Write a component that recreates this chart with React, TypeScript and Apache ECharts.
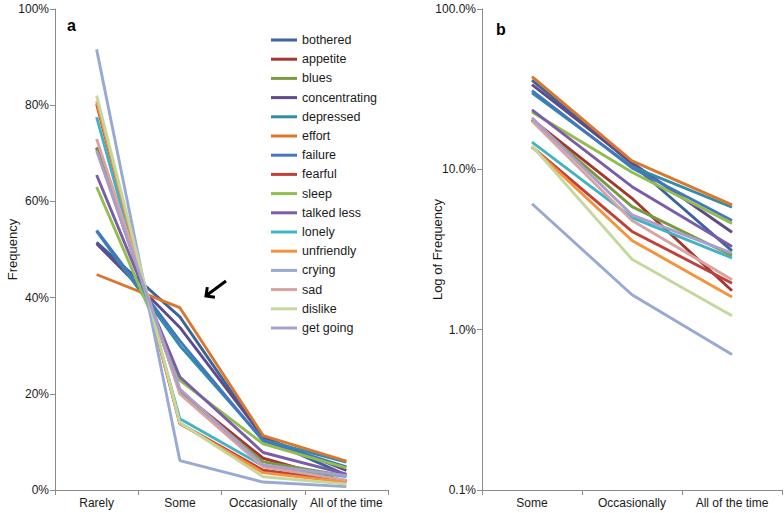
import React, { useEffect, useRef } from "react";
import * as echarts from "echarts";

const categoriesA = ["Rarely", "Some", "Occasionally", "All of the time"];
const categoriesB = ["Some", "Occasionally", "All of the time"];

const symptoms = [
  "bothered", "appetite", "blues", "concentrating", "depressed", "effort",
  "failure", "fearful", "sleep", "talked less", "lonely", "unfriendly",
  "crying", "sad", "dislike", "get going",
];

const colors = [
  "#3B649B", "#A5362F", "#7B9A3E", "#5F4A8B", "#2F8DA8", "#D9782D",
  "#4478BE", "#C0403A", "#93BE4D", "#7A5CA8", "#41B3C7", "#F5923A",
  "#97AAD4", "#D8A3A3", "#C4D89E", "#AA9FCB",
];

// values in percent, in symptom order
const rarely = [51.5, 71.2, 71.0, 51.2, 53.8, 44.8, 54.0, 80.2, 63.0, 65.5, 77.5, 80.8, 91.6, 73.0, 82.0, 70.5];
const some = [36.0, 20.5, 20.3, 33.8, 30.0, 37.9, 31.0, 13.8, 22.8, 23.5, 14.8, 13.8, 6.1, 20.0, 14.0, 21.0];
const occasionally = [10.8, 6.6, 5.85, 11.0, 10.4, 11.3, 10.2, 4.1, 9.6, 7.8, 5.0, 3.6, 1.65, 4.8, 2.75, 5.2];
const allOfTheTime = [3.1, 1.75, 2.9, 4.05, 5.8, 6.0, 4.8, 1.95, 4.6, 3.3, 2.8, 1.6, 0.7, 2.05, 1.22, 3.0];

const linearTicks = [0, 20, 40, 60, 80, 100];

const FONT = "Liberation Sans, Arial, sans-serif";
const AXIS_COLOR = "#8C8C8C";
const TEXT_COLOR = "#1A1A1A";

export default function App() {
  const ref = useRef<HTMLDivElement>(null);

  useEffect(() => {
    document.body.style.margin = "0";
    if (!ref.current) return;
    const chart = echarts.init(ref.current, undefined, { renderer: "svg" });

    const seriesA = symptoms.map((name, i) => ({
      name,
      type: "line",
      xAxisIndex: 0,
      yAxisIndex: 0,
      data: [rarely[i], some[i], occasionally[i], allOfTheTime[i]],
      symbol: "none",
      lineStyle: { width: 2.9, color: colors[i] },
      itemStyle: { color: colors[i] },
    }));
    const seriesB = symptoms.map((name, i) => ({
      name,
      type: "line",
      xAxisIndex: 1,
      yAxisIndex: 1,
      data: [some[i], occasionally[i], allOfTheTime[i]],
      symbol: "none",
      lineStyle: { width: 2.9, color: colors[i] },
      itemStyle: { color: colors[i] },
    }));

    const axisCommon = {
      axisLine: { show: true, lineStyle: { color: AXIS_COLOR, width: 1 } },
      axisTick: { show: true, length: 5, lineStyle: { color: AXIS_COLOR } },
      splitLine: { show: false },
    };

    chart.setOption({
      animation: false,
      textStyle: { fontFamily: FONT },
      grid: [
        { left: 55, top: 9, width: 333, height: 481 },
        { left: 482, top: 9, width: 300, height: 481 },
      ],
      xAxis: [
        {
          type: "category",
          gridIndex: 0,
          data: categoriesA,
          boundaryGap: true,
          ...axisCommon,
          axisLabel: { color: TEXT_COLOR, fontSize: 12, fontFamily: FONT, margin: 7, interval: 0 },
        },
        {
          type: "category",
          gridIndex: 1,
          data: categoriesB,
          boundaryGap: true,
          ...axisCommon,
          axisLabel: { color: TEXT_COLOR, fontSize: 12, fontFamily: FONT, margin: 7, interval: 0 },
        },
      ],
      yAxis: [
        {
          type: "value",
          gridIndex: 0,
          min: linearTicks[0],
          max: linearTicks[linearTicks.length - 1],
          interval: 20,
          ...axisCommon,
          axisLabel: { color: TEXT_COLOR, fontSize: 12, fontFamily: FONT, margin: 6, formatter: "{value}%" },
          name: "Frequency",
          nameLocation: "middle",
          nameGap: 36,
          nameMoveOverlap: false,
          nameTextStyle: { color: TEXT_COLOR, fontSize: 13, fontFamily: FONT },
        },
        {
          type: "log",
          gridIndex: 1,
          logBase: 10,
          min: 0.1,
          max: 100,
          ...axisCommon,
          axisLabel: {
            color: TEXT_COLOR,
            fontSize: 12,
            fontFamily: FONT,
            margin: 6,
            formatter: (v: number) => v.toFixed(1) + "%",
          },
          minorTick: { show: false },
          name: "Log of Frequency",
          nameLocation: "middle",
          nameGap: 38,
          nameMoveOverlap: false,
          nameTextStyle: { color: TEXT_COLOR, fontSize: 13, fontFamily: FONT },
        },
      ],
      legend: {
        orient: "vertical",
        left: 271,
        top: 33,
        itemWidth: 26,
        itemHeight: 3,
        itemGap: 5.2,
        icon: "rect",
        padding: 0,
        data: symptoms,
        textStyle: { color: TEXT_COLOR, fontSize: 12.5, fontFamily: FONT, lineHeight: 14 },
      },
      graphic: [
        {
          type: "text",
          left: 67,
          top: 17,
          style: { text: "a", font: "bold 16px " + FONT, fill: "#000" },
        },
        {
          type: "text",
          left: 496,
          top: 21,
          style: { text: "b", font: "bold 16px " + FONT, fill: "#000" },
        },
        {
          type: "polyline",
          shape: { points: [[226, 281], [207, 295]] },
          style: { stroke: "#000", lineWidth: 3, fill: "none" },
        },
        {
          type: "polyline",
          shape: { points: [[207.3, 287.1], [206, 296], [214.9, 297.3]] },
          style: { stroke: "#000", lineWidth: 3, fill: "none", lineJoin: "miter" },
        },
      ],
      series: [...seriesA, ...seriesB],
    });

    return () => chart.dispose();
  }, []);

  return <div ref={ref} style={{ width: 784, height: 513 }} />;
}
